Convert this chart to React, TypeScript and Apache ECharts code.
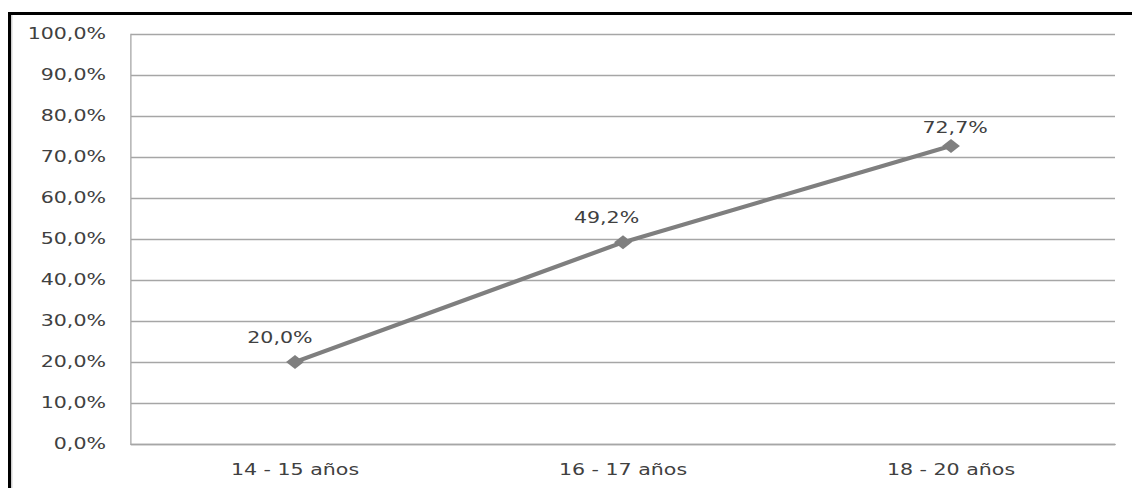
import React, { useEffect, useRef } from "react";
import * as echarts from "echarts";

// Age groups and share (%) per group
const categories = ["14 - 15 años", "16 - 17 años", "18 - 20 años"];
const values = [20.0, 49.2, 72.7];
// Per-point nudge of the value labels [dx, dy]
const labelOffsets: [number, number][] = [
  [-11, -4.5],
  [-12, -5.5],
  [3, 1.5],
];

const yMin = 0;
const yMax = 100;
const yStep = 10;

// The chart is laid out narrower and stretched horizontally
const PAGE_W = 1132;
const PAGE_H = 488;
const INNER_W = 826;
const SX = PAGE_W / INNER_W;

const fmt = (v: number) => v.toFixed(1).replace(".", ",") + "%";

export default function App() {
  const ref = useRef<HTMLDivElement>(null);

  useEffect(() => {
    if (!ref.current) return;
    const chart = echarts.init(ref.current, null, { renderer: "svg" });
    const font = "'DejaVu Sans', Verdana, sans-serif";
    const textColor = "#404040";
    const gridColor = "#a6a6a6";

    chart.setOption({
      animation: false,
      backgroundColor: "#ffffff",
      grid: {
        left: 131 / SX,
        right: (PAGE_W - 1115) / SX,
        top: 34,
        bottom: 44,
        containLabel: false,
      },
      xAxis: {
        type: "category",
        data: categories,
        boundaryGap: true,
        axisLine: { show: true, lineStyle: { color: gridColor, width: 1.3 } },
        axisTick: { show: false },
        axisLabel: {
          color: textColor,
          fontFamily: font,
          fontSize: 15,
          margin: 18,
        },
        splitLine: { show: false },
      },
      yAxis: {
        type: "value",
        min: yMin,
        max: yMax,
        interval: yStep,
        axisLine: { show: true, lineStyle: { color: gridColor, width: 1.3 / SX } },
        axisTick: { show: false },
        axisLabel: {
          color: textColor,
          fontFamily: font,
          fontSize: 15,
          margin: 25 / SX,
          formatter: (v: number) => fmt(v),
        },
        splitLine: { show: true, lineStyle: { color: gridColor, width: 1.3 } },
      },
      series: [
        {
          type: "line",
          data: values.map((v, i) => ({
            value: v,
            label: { offset: labelOffsets[i] },
          })),
          symbol: "diamond",
          symbolSize: [13, 14],
          lineStyle: { color: "#7f7f7f", width: 4 },
          itemStyle: { color: "#7f7f7f" },
          label: {
            show: true,
            position: "top",
            distance: 5,
            color: textColor,
            fontFamily: font,
            fontSize: 15,
            formatter: (p: any) => fmt(p.value),
          },
        },
      ],
      graphic: [
        {
          type: "line",
          shape: { x1: 9.5 / SX, y1: 12, x2: 9.5 / SX, y2: PAGE_H },
          style: { stroke: "#000000", lineWidth: 3 / SX },
          silent: true,
        },
        {
          type: "line",
          shape: { x1: 11.8 / SX, y1: 15, x2: 11.8 / SX, y2: PAGE_H },
          style: { stroke: "#b0b0b0", lineWidth: 1 / SX },
          silent: true,
        },
        {
          type: "line",
          shape: { x1: 8 / SX, y1: 13.5, x2: INNER_W, y2: 13.5 },
          style: { stroke: "#000000", lineWidth: 3 },
          silent: true,
        },
      ],
    });

    return () => chart.dispose();
  }, []);

  return (
    <div
      style={{
        position: "fixed",
        left: 0,
        top: 0,
        width: PAGE_W,
        height: PAGE_H,
        overflow: "hidden",
        background: "#ffffff",
      }}
    >
      <div
        ref={ref}
        style={{
          width: INNER_W,
          height: PAGE_H,
          transform: `scaleX(${SX})`,
          transformOrigin: "0 0",
        }}
      />
    </div>
  );
}
